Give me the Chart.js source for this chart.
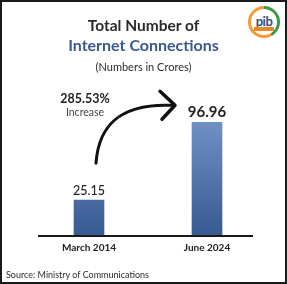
<!DOCTYPE html>
<html>
<head>
<meta charset="utf-8">
<script src="https://cdn.jsdelivr.net/npm/chart.js@4.4.0/dist/chart.umd.min.js"></script>
<style>
    html, body { margin: 0; padding: 0; background: #fff; }
    #wrap {
        position: relative;
        width: 287px;
        height: 284px;
        overflow: hidden;
        font-family: Lato, "Open Sans", sans-serif;
    }
    #frame {
        position: absolute;
        left: 0; top: 0; right: 0; bottom: 0;
        border: 2px solid #1a1a1a;
        pointer-events: none;
    }
    #chart { position: absolute; left: 0; top: 0; }
    .txt { position: absolute; left: 0; width: 287px; text-align: center; white-space: nowrap; }
    #t1 { top: 16px; font-size: 15.5px; font-weight: 700; color: #2b2b2b; }
    #t2 { top: 35px; font-size: 16px; font-weight: 700; color: #3a5a8e; }
    #t3 { top: 60px; font-size: 11px; color: #2b2b2b; }
    #source { position: absolute; left: 6px; top: 269px; font-size: 9px; color: #2b2b2b; }
    #logo {
        position: absolute; left: 248px; top: 6px; width: 32px; height: 32px;
        border-radius: 50%;
        background: conic-gradient(#3c9a46 0deg 150deg, #f29a36 150deg 360deg);
    }
    #logo .inner {
        position: absolute; left: 3px; top: 3px; width: 26px; height: 26px;
        border-radius: 50%; background: #fff;
        font: 700 13px Lato, sans-serif; color: #2f4f7f;
        text-align: center; line-height: 24px; letter-spacing: -0.5px;
    }
    #logo .ribbon {
        position: absolute; left: 6px; top: 21px; width: 20px; height: 4px;
        background: #e8862a;
    }
</style>
</head>
<body>
<div id="wrap">
    <canvas id="chart" width="287" height="284"></canvas>
    <div class="txt" id="t1">Total Number of</div>
    <div class="txt" id="t2">Internet Connections</div>
    <div class="txt" id="t3">(Numbers in Crores)</div>
    <div id="source">Source: Ministry of Communications</div>
    <div id="logo"><div class="inner">pib</div><div class="ribbon"></div></div>
    <div id="frame"></div>
</div>
<script>
const periods = ['March 2014', 'June 2024'];
const connections = [25.15, 96.96];

const growthPct = ((connections[1] - connections[0]) / connections[0] * 100).toFixed(2);

// value labels above bars, growth note and the curved arrow
const annotatePlugin = {
    id: 'annotate',
    afterDatasetsDraw(chart) {
        const ctx = chart.ctx;
        const bars = chart.getDatasetMeta(0).data;
        ctx.save();
        ctx.textAlign = 'center';
        ctx.textBaseline = 'middle';
        ctx.fillStyle = '#222';

        bars.forEach((bar, i) => {
            const last = i === bars.length - 1;
            ctx.font = last ? '700 15px Lato' : '500 12.5px Lato';
            ctx.fillText(connections[i].toFixed(2), bar.x, bar.y - (last ? 10 : 9));
        });

        const b0 = bars[0], b1 = bars[1];
        const sx = b0.x + 7, sy = b0.y - 37;
        const ex = b1.x - 33, ey = b1.y - 17;

        ctx.strokeStyle = '#111';
        ctx.lineCap = 'round';
        ctx.lineJoin = 'round';
        ctx.lineWidth = 3;
        ctx.beginPath();
        ctx.moveTo(sx, sy);
        ctx.bezierCurveTo(sx + 3, sy - 43, sx + 30, ey - 2, ex - 2, ey);
        ctx.stroke();

        ctx.lineWidth = 3.5;
        ctx.beginPath();
        ctx.moveTo(ex - 14, ey - 14);
        ctx.lineTo(ex + 1, ey);
        ctx.lineTo(ex - 12, ey + 14);
        ctx.stroke();

        ctx.font = '700 12.5px Lato';
        ctx.fillStyle = '#222';
        ctx.fillText(growthPct + '%', b0.x - 4, sy - 64);
        ctx.font = '10.5px Lato';
        ctx.fillStyle = '#444';
        ctx.fillText('Increase', b0.x - 4, sy - 51);

        // baseline
        const area = chart.chartArea;
        ctx.strokeStyle = '#1a1a1a';
        ctx.lineWidth = 2;
        ctx.lineCap = 'butt';
        ctx.beginPath();
        ctx.moveTo(area.left + 8, area.bottom + 1);
        ctx.lineTo(area.right - 13, area.bottom + 1);
        ctx.stroke();
        ctx.restore();
    }
};

const ctx = document.getElementById('chart').getContext('2d');
new Chart(ctx, {
    type: 'bar',
    data: {
        labels: periods,
        datasets: [{
            data: connections,
            base: -7,
            barThickness: 30,
            backgroundColor: (c) => {
                const area = c.chart.chartArea;
                if (!area) return '#4a6ea5';
                const g = c.chart.ctx.createLinearGradient(0, area.top, 0, area.bottom);
                g.addColorStop(0, '#7192c5');
                g.addColorStop(1, '#375a91');
                return g;
            }
        }]
    },
    options: {
        responsive: false,
        animation: false,
        layout: { padding: { top: 119, left: 30, right: 21, bottom: 23 } },
        plugins: {
            legend: { display: false },
            tooltip: { enabled: false }
        },
        scales: {
            x: {
                grid: { display: false, drawTicks: false },
                border: { display: false },
                ticks: {
                    padding: 7,
                    color: '#222',
                    font: { family: 'Lato', size: 10, weight: '700' }
                }
            },
            y: {
                display: false,
                min: -7,
                max: 100
            }
        }
    },
    plugins: [annotatePlugin]
});
</script>
</body>
</html>
